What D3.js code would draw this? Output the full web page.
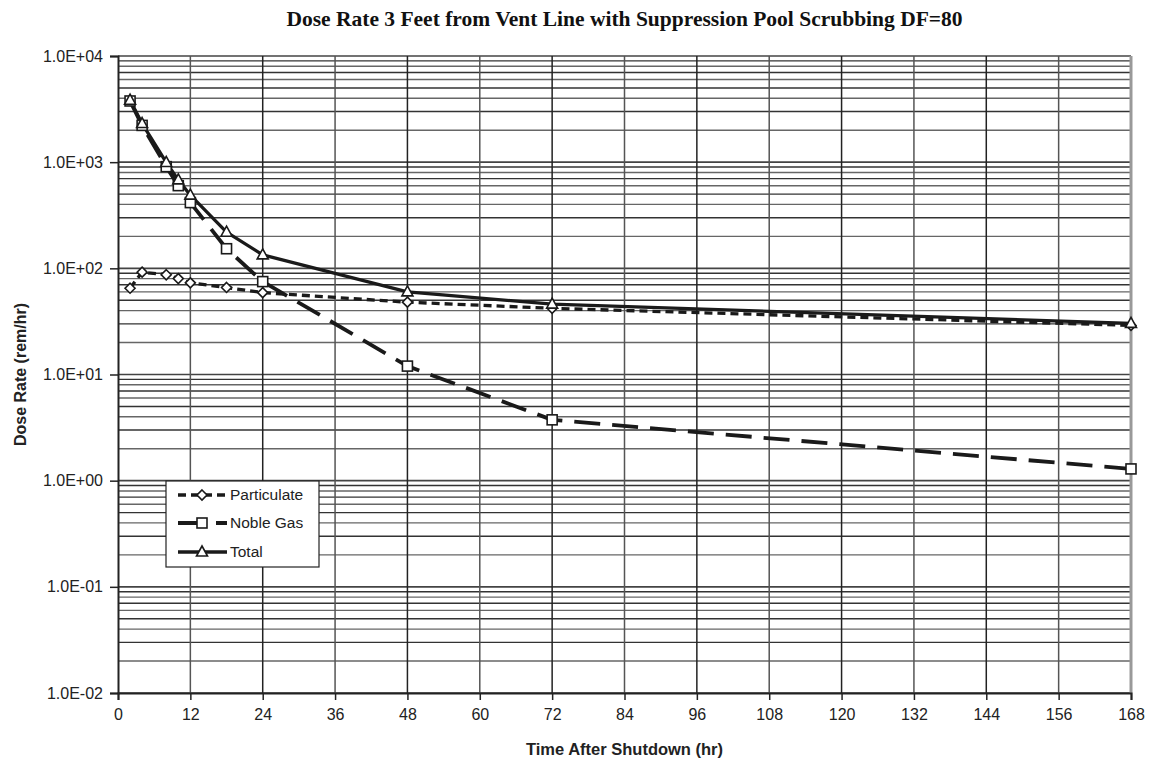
<!DOCTYPE html>
<html><head><meta charset="utf-8">
<script src="https://cdn.jsdelivr.net/npm/d3@7"></script>
<style>body{margin:0;background:#fff}svg{display:block}</style>
</head><body><svg id="c" width="1151" height="764"></svg>
<script>
const title = "Dose Rate 3 Feet from Vent Line with Suppression Pool Scrubbing DF=80";
const xTitle = "Time After Shutdown (hr)";
const yTitle = "Dose Rate (rem/hr)";
const hours = [2, 4, 8, 10, 12, 18, 24, 48, 72, 168];
const particulate = [65, 92, 87, 80, 73, 66, 59, 48, 42, 29];
const nobleGas = [3770, 2220, 907, 601, 416, 153, 75, 12, 3.74, 1.29];
const total = [3835, 2312, 994, 681, 489, 219, 134, 60, 46, 30.3];
const xTicks = [0, 12, 24, 36, 48, 60, 72, 84, 96, 108, 120, 132, 144, 156, 168];
const yTicks = [1e-2, 1e-1, 1e0, 1e1, 1e2, 1e3, 1e4];
const yTickLabels = ["1.0E-02", "1.0E-01", "1.0E+00", "1.0E+01", "1.0E+02", "1.0E+03", "1.0E+04"];
const seriesNames = ["Particulate", "Noble Gas", "Total"];

const svg = d3.select("#c");
const L = 118, R = 1131, T = 56, B = 693;
const x = d3.scaleLinear().domain([0, 168]).range([L, R]);
const y = d3.scaleLog().domain([1e-2, 1e4]).range([B, T]);

// minor horizontal grid
const minor = [];
for (let e = -2; e < 4; e++) for (let m = 2; m <= 9; m++) minor.push(m * Math.pow(10, e));
const g = svg.append("g");
g.selectAll("line.mn").data(minor).join("line")
  .attr("x1", L).attr("x2", R).attr("y1", d => y(d)).attr("y2", d => y(d))
  .attr("stroke", (d, i) => i % 2 ? "#333" : "#666").attr("stroke-width", 1.4);
g.selectAll("line.mj").data(yTicks).join("line")
  .attr("x1", L).attr("x2", R).attr("y1", d => y(d)).attr("y2", d => y(d))
  .attr("stroke", "#444").attr("stroke-width", 1.6);
g.selectAll("line.vx").data(xTicks.slice(1, -1)).join("line")
  .attr("x1", d => x(d)).attr("x2", d => x(d)).attr("y1", T).attr("y2", B)
  .attr("stroke", (d, i) => i % 2 ? "#222" : "#555").attr("stroke-width", 1.5);
// right border
svg.append("line").attr("x1", R).attr("x2", R).attr("y1", T).attr("y2", B)
  .attr("stroke", "#999").attr("stroke-width", 3);

// axes
const xAxis = d3.axisBottom(x).tickValues(xTicks).tickSize(7).tickFormat(d3.format("d"));
const gx = svg.append("g").attr("transform", `translate(0,${B})`).call(xAxis);
gx.select(".domain").attr("stroke", "#222").attr("stroke-width", 2);
gx.selectAll(".tick line").attr("stroke", "#222").attr("stroke-width", 1.5);
gx.selectAll("text").attr("font-family", "Arial, 'Liberation Sans', sans-serif")
  .attr("font-size", 16).attr("fill", "#222").attr("dy", "1.05em");

const yAxis = d3.axisLeft(y).tickValues(yTicks).tickSize(8)
  .tickFormat((d, i) => yTickLabels[i]);
const gy = svg.append("g").attr("transform", `translate(${L},0)`).call(yAxis);
gy.select(".domain").attr("stroke", "#222").attr("stroke-width", 2);
gy.selectAll(".tick line").attr("stroke", "#222").attr("stroke-width", 1.5);
gy.selectAll("text").attr("font-family", "Arial, 'Liberation Sans', sans-serif")
  .attr("font-size", 16).attr("fill", "#222").attr("x", -15);

// titles
svg.append("text").attr("x", (L + R) / 2).attr("y", 26).attr("text-anchor", "middle")
  .attr("font-family", "'Times New Roman', 'Liberation Serif', serif").attr("font-weight", "bold")
  .attr("font-size", 21.5).attr("fill", "#111").text(title);
svg.append("text").attr("x", (L + R) / 2).attr("y", 755).attr("text-anchor", "middle")
  .attr("font-family", "Arial, 'Liberation Sans', sans-serif").attr("font-weight", "bold")
  .attr("font-size", 16.5).attr("fill", "#222").text(xTitle);
svg.append("text").attr("transform", `translate(26,${(T + B) / 2}) rotate(-90)`).attr("text-anchor", "middle")
  .attr("font-family", "Arial, 'Liberation Sans', sans-serif").attr("font-weight", "bold")
  .attr("font-size", 16).attr("fill", "#222").text(yTitle);

// series
const styles = [
  {dash: "8,5", w: 3.3, marker: "diamond"},
  {dash: "26,12", w: 3.8, marker: "square"},
  {dash: null, w: 3.3, marker: "triangle"}
];
const data = [particulate, nobleGas, total];
const line = d3.line().x((d, i) => x(hours[i])).y(d => y(d));
function marker(sel, type, cx, cy) {
  if (type === "diamond") sel.append("path").attr("d", `M${cx},${cy-5}L${cx+5},${cy}L${cx},${cy+5}L${cx-5},${cy}Z`);
  else if (type === "square") sel.append("rect").attr("x", cx - 5).attr("y", cy - 5).attr("width", 10).attr("height", 10);
  else sel.append("path").attr("d", `M${cx},${cy-6}L${cx+5.5},${cy+4}L${cx-5.5},${cy+4}Z`);
}
data.forEach((vals, k) => {
  const st = styles[k];
  svg.append("path").datum(vals).attr("d", line).attr("fill", "none")
    .attr("stroke", "#1a1a1a").attr("stroke-width", st.w)
    .attr("stroke-dasharray", st.dash).attr("stroke-linejoin", "round");
});
data.forEach((vals, k) => {
  const st = styles[k];
  const mg = svg.append("g").attr("fill", "#fff").attr("stroke", "#1a1a1a").attr("stroke-width", 1.6);
  vals.forEach((v, i) => marker(mg, st.marker, x(hours[i]), y(v)));
});

// legend
const lg = svg.append("g");
lg.append("rect").attr("x", 166).attr("y", 481).attr("width", 153).attr("height", 86)
  .attr("fill", "#fff").attr("stroke", "#222").attr("stroke-width", 1.2);
const rowsY = [495, 523, 552];
seriesNames.forEach((name, k) => {
  const st = styles[k], yy = rowsY[k];
  lg.append("line").attr("x1", 178).attr("x2", 227).attr("y1", yy).attr("y2", yy)
    .attr("stroke", "#1a1a1a").attr("stroke-width", st.w).attr("stroke-dasharray", st.dash);
  const mg = lg.append("g").attr("fill", "#fff").attr("stroke", "#1a1a1a").attr("stroke-width", 1.6);
  marker(mg, st.marker, 202, yy);
  lg.append("text").attr("x", 230).attr("y", yy).attr("dy", "0.35em")
    .attr("font-family", "Arial, 'Liberation Sans', sans-serif").attr("font-size", 15.5)
    .attr("fill", "#222").text(name);
});
</script></body></html>
